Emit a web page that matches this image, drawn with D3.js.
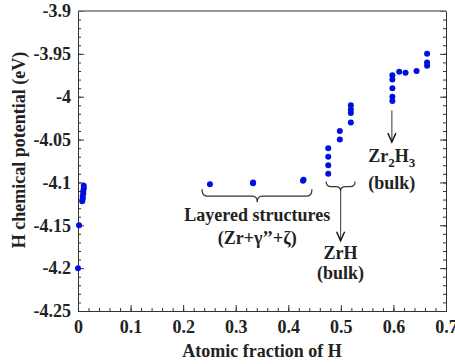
<html>
<head>
<script src="https://d3js.org/d3.v7.min.js"></script>
<style>
  body { margin: 0; background: #fff; }
  text { font-family: "Liberation Serif", "Times New Roman", serif; font-weight: bold; fill: #222; }
</style>
</head>
<body>
<svg id="chart" width="455" height="364"></svg>
<script>
// data
var fracH = [0, 0.002, 0.008, 0.009, 0.009, 0.010, 0.010, 0.011, 0.011,
             0.251, 0.333, 0.333, 0.428, 0.429,
             0.476, 0.476, 0.476, 0.476, 0.498, 0.498, 0.519, 0.519, 0.519, 0.519,
             0.598, 0.598, 0.598, 0.598, 0.598, 0.611, 0.623, 0.644, 0.664, 0.664, 0.664];
var muH = [-4.200, -4.150, -4.122, -4.119, -4.116, -4.113, -4.110, -4.107, -4.104,
           -4.102, -4.101, -4.100, -4.098, -4.097,
           -4.060, -4.070, -4.080, -4.090, -4.040, -4.050, -4.010, -4.015, -4.019, -4.030,
           -3.975, -3.980, -3.990, -4.000, -4.005, -3.971, -3.972, -3.970, -3.950, -3.960, -3.964];
var xTicks = [0, 0.1, 0.2, 0.3, 0.4, 0.5, 0.6, 0.7];
var yTicks = [-3.9, -3.95, -4, -4.05, -4.1, -4.15, -4.2, -4.25];

var svg = d3.select("#chart");
var pLeft = 78, pRight = 446, pTop = 11, pBottom = 311;

var x = d3.scaleLinear().domain([0, 0.7]).range([pLeft, pRight]);
var y = d3.scaleLinear().domain([-3.9, -4.25]).range([pTop, pBottom]);
var fmt = function(d) { return String(+d.toFixed(2)); };
var minorY = d3.range(0, 36).map(function(i){return +(-3.9 - i*0.01).toFixed(2);});
var minorX = d3.range(0, 36).map(function(i){return +(i*0.02).toFixed(2);});

// minor ticks
svg.append("g")
  .attr("transform", "translate(0," + pBottom + ")")
  .call(d3.axisBottom(x).tickValues(minorX).tickSizeInner(-3).tickSizeOuter(0).tickFormat(""));
svg.append("g")
  .attr("transform", "translate(" + pLeft + ",0)")
  .call(d3.axisLeft(y).tickValues(minorY).tickSizeInner(-3).tickSizeOuter(0).tickFormat(""));
svg.append("g")
  .attr("transform", "translate(" + pRight + ",0)")
  .call(d3.axisRight(y).tickValues(minorY).tickSizeInner(-3).tickSizeOuter(0).tickFormat(""));

// major ticks with labels
svg.append("g")
  .attr("transform", "translate(0," + pBottom + ")")
  .call(d3.axisBottom(x).tickValues(xTicks).tickSizeInner(-6).tickSizeOuter(0).tickPadding(9).tickFormat(fmt));
svg.append("g")
  .attr("transform", "translate(" + pLeft + ",0)")
  .call(d3.axisLeft(y).tickValues(yTicks).tickSizeInner(-6).tickSizeOuter(0).tickPadding(7).tickFormat(fmt));
svg.append("g")
  .attr("transform", "translate(" + pRight + ",0)")
  .call(d3.axisRight(y).tickValues(yTicks).tickSizeInner(-6).tickSizeOuter(0).tickFormat(""));

svg.selectAll(".tick text").style("font-size", "18px").attr("fill", "#222")
  .style("font-family", "'Liberation Serif', serif").style("font-weight", "bold");
svg.selectAll(".domain, .tick line").attr("stroke", "#333");

// top border
svg.append("line").attr("x1", pLeft).attr("x2", pRight).attr("y1", pTop).attr("y2", pTop)
  .attr("stroke", "#777").attr("stroke-width", 1.5);

// axis titles
svg.append("text")
  .attr("x", (pLeft + pRight) / 2).attr("y", 357)
  .attr("text-anchor", "middle").style("font-size", "18px")
  .text("Atomic fraction of H");
svg.append("text")
  .attr("transform", "translate(25,150) rotate(-90)")
  .attr("text-anchor", "middle").style("font-size", "18px")
  .text("H chemical potential (eV)");

// points
svg.append("g").selectAll("circle")
  .data(fracH)
  .enter()
  .append("circle")
    .attr("cx", function(d) { return x(d); })
    .attr("cy", function(d, i) { return y(muH[i]); })
    .attr("r", 3)
    .attr("fill", "#0010e0");

// curly brace opening upward
function brace(x1, x2, cx, yTop, yMid, yBot) {
  var r = 5;
  return "M" + x1 + "," + yTop + " Q" + x1 + "," + yMid + " " + (x1 + r) + "," + yMid +
         " L" + (cx - r) + "," + yMid + " Q" + cx + "," + yMid + " " + cx + "," + yBot +
         " Q" + cx + "," + yMid + " " + (cx + r) + "," + yMid +
         " L" + (x2 - r) + "," + yMid + " Q" + x2 + "," + yMid + " " + x2 + "," + yTop;
}
svg.append("path")
  .attr("d", brace(x(0.236), x(0.445), x(0.341), y(-4.108), y(-4.116), y(-4.123)))
  .attr("fill", "none").attr("stroke", "#333").attr("stroke-width", 1.2);
svg.append("path")
  .attr("d", brace(x(0.472), x(0.527), x(0.4995), y(-4.099), y(-4.105), y(-4.11)))
  .attr("fill", "none").attr("stroke", "#333").attr("stroke-width", 1.2);

// arrows
function arrow(ax, y1, y2) {
  svg.append("line").attr("x1", ax).attr("x2", ax).attr("y1", y1).attr("y2", y2)
    .attr("stroke", "#555").attr("stroke-width", 1.2);
  svg.append("path")
    .attr("d", "M" + (ax - 4) + "," + (y2 - 9) + " L" + ax + "," + y2 + " L" + (ax + 4) + "," + (y2 - 9))
    .attr("fill", "none").attr("stroke", "#111").attr("stroke-width", 1.4);
}
arrow(x(0.4995), y(-4.11), y(-4.168));
arrow(x(0.597), y(-4.016), y(-4.053));

// labels
svg.append("text").attr("x", x(0.341)).attr("y", 221).attr("text-anchor", "middle")
  .style("font-size", "18px").text("Layered structures");
svg.append("text").attr("x", x(0.341)).attr("y", 244).attr("text-anchor", "middle")
  .style("font-size", "18px").text("(Zr+\u03b3\u2019\u2019+\u03b6)");
svg.append("text").attr("x", x(0.4995)).attr("y", 259).attr("text-anchor", "middle")
  .style("font-size", "18px").text("ZrH");
svg.append("text").attr("x", x(0.4995)).attr("y", 279).attr("text-anchor", "middle")
  .style("font-size", "18px").text("(bulk)");
var zt = svg.append("text").attr("x", x(0.597)).attr("y", 162).attr("text-anchor", "middle")
  .style("font-size", "18px");
zt.append("tspan").text("Zr");
zt.append("tspan").attr("dy", 5).style("font-size", "13px").text("2");
zt.append("tspan").attr("dy", -5).text("H");
zt.append("tspan").attr("dy", 5).style("font-size", "13px").text("3");
svg.append("text").attr("x", x(0.597)).attr("y", 189).attr("text-anchor", "middle")
  .style("font-size", "18px").text("(bulk)");
</script>
</body>
</html>
